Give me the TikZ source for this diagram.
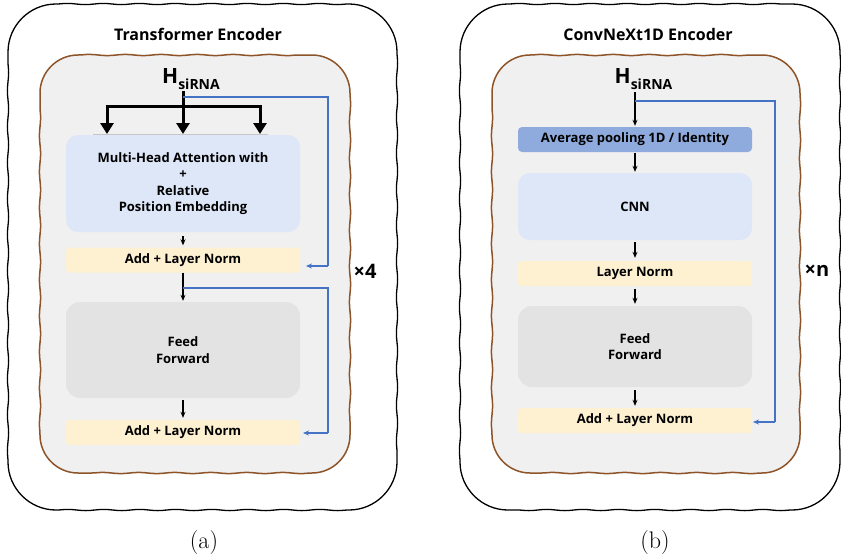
\documentclass[tikz,border=0pt]{standalone}
\usepackage{fontspec}
\newfontfamily\dfont{Open Sans}
\usetikzlibrary{arrows.meta,decorations.pathmorphing}
\definecolor{panelc}{HTML}{F0F0F0}
\definecolor{brownc}{HTML}{8E5429}
\definecolor{lblue}{HTML}{DDE7F7}
\definecolor{mblue}{HTML}{8FAADC}
\definecolor{lyellow}{HTML}{FDF1D2}
\definecolor{lgray}{HTML}{E3E3E3}
\definecolor{skipc}{HTML}{4472C4}
\newcommand{\wobbox}[6]{%
  \draw[#1] (#2+#6,#3) decorate{-- (#4-#6,#3)}
    .. controls (#4-0.45*#6,#3) and (#4,#3+0.45*#6) .. (#4,#3+#6)
    decorate{-- (#4,#5-#6)}
    .. controls (#4,#5-0.45*#6) and (#4-0.45*#6,#5) .. (#4-#6,#5)
    decorate{-- (#2+#6,#5)}
    .. controls (#2+0.45*#6,#5) and (#2,#5-0.45*#6) .. (#2,#5-#6)
    decorate{-- (#2,#3+#6)}
    .. controls (#2,#3+0.45*#6) and (#2+0.45*#6,#3) .. (#2+#6,#3) -- cycle;}
\begin{document}
\begin{tikzpicture}[x=1pt,y=-1pt,
  wob/.style={decoration={snake,amplitude=0.6pt,segment length=36pt}},
  outerbox/.style={wob,draw=black,line width=1.3pt,fill=white},
  innerbox/.style={wob,draw=brownc,line width=1.5pt,fill=panelc},
  blk/.style={rectangle,draw=none,rounded corners=12pt,minimum width=234pt,inner sep=0pt,
    font=\dfont\bfseries\fontsize{13}{16.5}\selectfont,align=center},
  thinbox/.style={blk,rounded corners=3pt,minimum height=25pt},
  titletext/.style={font=\dfont\bfseries\fontsize{16}{19}\selectfont},
  hnode/.style={font=\dfont\bfseries\fontsize{21}{24}\selectfont,inner sep=0pt},
  reptext/.style={font=\dfont\bfseries\fontsize{20}{22}\selectfont},
  captext/.style={font=\fontsize{24}{28}\selectfont},
  sarrow/.style={line width=1.1pt,-{Stealth[length=6pt,width=5pt]}},
  bigline/.style={line width=3pt},
  bigarrow/.style={line width=3pt,-{Triangle[length=11pt,width=13pt]}},
  skipline/.style={draw=skipc,line width=1.4pt},
  skiparrow/.style={skipline,-{Stealth[length=6pt,width=5pt]}}
]
\useasboundingbox (0,0) rectangle (841,558);

% ---------------- panel (a) ----------------
\wobbox{outerbox}{8}{4}{397}{510}{48}
\wobbox{innerbox}{40}{55}{350}{473}{38}
\node[titletext] (ta) at (198,34) {Transformer Encoder};
\node[hnode] (ha) at (191,79) {H\raisebox{-0.32em}{\fontsize{14}{14}\selectfont siRNA}};

\node[blk,fill=lblue,minimum height=97pt] (mha) at (183,183.5)
  {Multi-Head Attention with\\+\\Relative\\Position Embedding};
\node[thinbox,fill=lyellow] (aln1) at (183,260) {Add + Layer Norm};
\node[blk,fill=lgray,rounded corners=14pt,minimum height=96pt] (ffa) at (183,350) {Feed\\Forward};
\node[thinbox,fill=lyellow] (aln2) at (183,432.5) {Add + Layer Norm};
\node[reptext] (x4) at (365,271) {×4};
\node[captext] (capa) at (204,543) {(a)};

\coordinate (sa) at (183,91);
\coordinate (ja) at (183,106);
\draw[bigline] (sa) -- (ja);
\draw[bigline,line cap=butt] (105.5,106) -- (261.5,106);
\foreach \xx in {107,183,260}
  \draw[bigarrow] (\xx,106) -- (\xx,134);
\draw[gray!45,line width=0.5pt] (93,134.5) -- (268,134.5);
\draw[skipline] (183,97) -- (328,97) -- (328,266);
\draw[skiparrow] (328,266) -- (306,266);
\draw[sarrow,shorten <=4pt,shorten >=2pt] (mha.south) -- (aln1.north);
\draw[sarrow,shorten >=1pt] (aln1.south) -- (ffa.north);
\draw[skipline] (183,288) -- (328,288) -- (328,433);
\draw[skiparrow] (328,433) -- (303,433);
\draw[sarrow,shorten <=2pt,shorten >=2pt] (ffa.south) -- (aln2.north);

% ---------------- panel (b) ----------------
\wobbox{outerbox}{460}{4}{840}{510}{48}
\wobbox{innerbox}{492}{55}{800}{473}{38}
\node[titletext] (tb) at (648,34) {ConvNeXt1D Encoder};
\node[hnode] (hb) at (643.5,79) {H\raisebox{-0.32em}{\fontsize{14}{14}\selectfont siRNA}};

\node[thinbox,fill=mblue,rounded corners=4pt] (avg) at (635,139.5) {Average pooling 1D / Identity};
\node[blk,fill=lblue,minimum height=67pt] (cnn) at (635,206.5) {CNN};
\node[thinbox,fill=lyellow] (ln) at (635,273.5) {Layer Norm};
\node[blk,fill=lgray,rounded corners=14pt,minimum height=81pt] (ffb) at (635,346.5) {Feed\\Forward};
\node[thinbox,fill=lyellow] (aln3) at (635,420.5) {Add + Layer Norm};
\node[reptext] (xn) at (817,271) {×n};
\node[captext] (capb) at (655,543) {(b)};

\coordinate (sb) at (635,92);
\draw[sarrow,shorten >=1pt] (sb) -- (avg.north);
\draw[skipline] (635,101) -- (775,101) -- (775,422);
\draw[skiparrow] (775,422) -- (753,422);
\draw[sarrow,shorten <=1pt,shorten >=1pt] (avg.south) -- (cnn.north);
\draw[sarrow,shorten <=2pt,shorten >=3pt] (cnn.south) -- (ln.north);
\draw[sarrow,shorten <=3pt,shorten >=2pt] (ln.south) -- (ffb.north);
\draw[sarrow,shorten <=3pt,shorten >=2pt] (ffb.south) -- (aln3.north);
\end{tikzpicture}
\end{document}
